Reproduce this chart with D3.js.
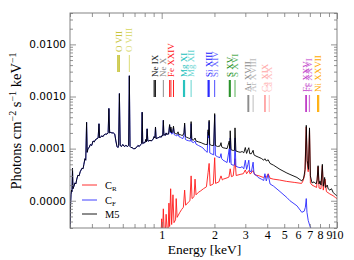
<!DOCTYPE html>
<html><head><meta charset="utf-8">
<script src="https://cdn.jsdelivr.net/npm/d3@7"></script>
<style>
html,body{margin:0;padding:0;background:#fff;}
svg{display:block;}
</style></head><body>
<svg id="c" width="354" height="260"></svg>
<script>
// ---------- data ----------
const xTickValues = [0.3,0.4,0.5,0.6,0.7,0.8,0.9,1,2,3,4,5,6,7,8,9,10];
const xTickLabels = ["","","","","","","","1","2","3","4","5","6","7","8","9","10"];
const yTickValues = [1e-5,1e-4,1e-3,1e-2];
const yTickLabels = ["0.0000","0.0001","0.0010","0.0100"];
const seriesNames = ["C_R","C_F","M5"];

// soft part (E<1.1 keV) where C_F and M5 coincide  [keV, photons cm^-2 s^-1 keV^-1]
const softSpectrum = [
[0.300,2.5e-6],[0.302,8.0e-6],[0.304,1.3e-5],[0.306,1.6e-5],[0.308,1.5e-5],[0.310,4.2e-5],[0.312,1.7e-5],
[0.316,1.9e-5],[0.320,2.2e-5],[0.324,2.1e-5],[0.328,2.6e-5],[0.333,3.1e-5],[0.338,3.0e-5],[0.343,3.6e-5],
[0.351,4.2e-5],[0.356,4.1e-5],[0.360,5.0e-5],[0.365,6.4e-5],[0.369,6.0e-5],[0.373,3.2e-4],[0.376,8.5e-5],
[0.380,1.0e-4],[0.386,1.05e-4],[0.392,1.2e-4],[0.399,1.15e-4],[0.406,1.4e-4],[0.413,1.35e-4],[0.420,1.5e-4],
[0.428,1.55e-4],[0.434,1.6e-4],[0.439,3.0e-4],[0.443,1.6e-4],[0.450,1.7e-4],[0.456,1.75e-4],[0.463,1.7e-4],
[0.470,1.85e-4],[0.478,1.9e-4],[0.488,1.9e-4],[0.495,2.0e-4],[0.500,5.9e-4],[0.505,2.0e-4],[0.512,2.05e-4],
[0.520,2.0e-4],[0.530,2.0e-4],[0.540,1.9e-4],[0.548,1.4e-4],[0.556,1.1e-4],[0.563,1.05e-4],[0.568,1.15e-4],
[0.574,1.14e-3],[0.580,1.15e-4],[0.590,1.1e-4],[0.600,1.2e-4],[0.612,1.1e-4],[0.625,1.15e-4],[0.640,1.1e-4],
[0.648,1.15e-4],[0.654,2.5e-3],[0.660,1.1e-4],[0.668,1.05e-4],[0.677,1.05e-4],[0.690,1.0e-4],[0.704,1.0e-4],
[0.718,1.05e-4],[0.732,1.15e-4],[0.745,1.1e-4],[0.760,1.2e-4],[0.768,1.25e-4],[0.774,5.0e-4],[0.780,1.25e-4],
[0.792,1.3e-4],[0.803,1.3e-4],[0.812,1.5e-4],[0.818,1.35e-4],[0.826,2.4e-4],[0.834,1.4e-4],[0.845,1.4e-4],
[0.858,1.45e-4],[0.870,1.4e-4],[0.881,1.45e-4],[0.893,1.5e-4],[0.905,1.7e-4],[0.915,1.6e-4],[0.922,2.6e-4],
[0.930,1.55e-4],[0.942,1.6e-4],[0.952,1.6e-4],[0.965,1.65e-4],[0.980,1.7e-4],[0.993,1.65e-4],[1.005,1.8e-4],
[1.014,1.75e-4],[1.022,3.5e-4],[1.030,1.8e-4],[1.040,1.85e-4],[1.050,1.8e-4],[1.060,2.0e-4],[1.072,1.85e-4],
[1.085,1.95e-4],[1.095,1.9e-4]
];

// C_F above 1.1 keV
const cfHard = [
[1.100,2.15e-4],[1.110,2.8e-4],[1.120,2.0e-4],[1.129,2.4e-4],[1.140,1.9e-4],[1.155,1.95e-4],[1.168,2.5e-4],
[1.180,1.85e-4],[1.200,1.8e-4],[1.220,1.75e-4],[1.240,1.9e-4],[1.255,1.7e-4],[1.280,1.65e-4],[1.300,1.6e-4],
[1.320,1.55e-4],[1.340,1.8e-4],[1.352,2.9e-4],[1.365,1.5e-4],[1.390,1.45e-4],[1.420,1.42e-4],[1.450,1.4e-4],
[1.462,1.4e-4],[1.472,3.0e-4],[1.485,1.35e-4],[1.520,1.3e-4],[1.550,1.4e-4],[1.570,1.22e-4],[1.620,1.15e-4],
[1.680,1.08e-4],[1.720,1.03e-4],[1.780,9.0e-5],[1.820,8.5e-5],[1.839,2.1e-4],[1.852,1.6e-4],[1.865,3.3e-4],
[1.880,8.3e-5],[1.930,7.9e-5],[1.980,7.6e-5],[2.006,4.4e-4],[2.025,7.4e-5],[2.080,7.0e-5],[2.150,6.7e-5],
[2.180,8.0e-5],[2.200,6.4e-5],[2.240,6.0e-5],[2.300,5.7e-5],[2.360,5.4e-5],[2.430,1.0e-4],[2.445,5.4e-5],
[2.460,1.6e-4],[2.490,5.0e-5],[2.560,4.8e-5],[2.600,4.9e-5],[2.620,1.6e-4],[2.650,4.6e-5],[2.730,4.4e-5],
[2.800,4.3e-5],[2.880,4.5e-5],[2.940,4.1e-5],[3.000,6.0e-5],[3.050,4.0e-5],[3.104,5.0e-5],[3.140,6.0e-5],
[3.180,3.7e-5],[3.250,3.6e-5],[3.323,5.5e-5],[3.360,3.3e-5],[3.450,3.1e-5],[3.550,2.8e-5],[3.700,2.6e-5],
[3.820,2.45e-5],[3.880,3.3e-5],[3.950,2.4e-5],[4.050,3.2e-5],[4.150,2.1e-5],[4.350,1.9e-5],[4.730,1.5e-5],
[5.180,1.15e-5],[5.390,1.0e-5],[5.910,8.0e-6],[6.300,6.0e-6],[6.500,6.3e-6],[6.600,7.5e-6],[6.680,1.1e-5],
[6.740,6.0e-6],[6.850,4.2e-6],[7.000,3.3e-6],[7.200,2.7e-6],[7.500,2.0e-6]
];

// M5 above 1.1 keV
const m5Hard = [
[1.100,2.2e-4],[1.110,2.9e-4],[1.120,2.1e-4],[1.129,2.6e-4],[1.140,2.0e-4],[1.155,2.1e-4],[1.168,2.7e-4],
[1.180,2.0e-4],[1.200,1.95e-4],[1.220,1.9e-4],[1.240,2.1e-4],[1.255,1.85e-4],[1.280,1.85e-4],[1.300,1.8e-4],
[1.320,1.8e-4],[1.340,2.0e-4],[1.352,3.1e-4],[1.365,1.7e-4],[1.390,1.65e-4],[1.420,1.6e-4],[1.450,1.56e-4],
[1.462,1.6e-4],[1.472,3.3e-4],[1.485,1.5e-4],[1.520,1.45e-4],[1.550,1.6e-4],[1.570,1.4e-4],[1.620,1.35e-4],
[1.680,1.3e-4],[1.720,1.25e-4],[1.780,1.2e-4],[1.820,1.2e-4],[1.839,2.3e-4],[1.852,1.8e-4],[1.865,3.5e-4],
[1.880,1.2e-4],[1.930,1.15e-4],[1.980,1.15e-4],[2.006,4.7e-4],[2.025,1.15e-4],[2.080,1.1e-4],[2.150,1.12e-4],
[2.180,1.3e-4],[2.200,1.08e-4],[2.240,1.04e-4],[2.300,1.02e-4],[2.360,1.0e-4],[2.430,1.4e-4],[2.445,1.0e-4],
[2.460,2.2e-4],[2.490,9.5e-5],[2.560,9.2e-5],[2.600,9.3e-5],[2.620,2.5e-4],[2.650,9.0e-5],[2.730,8.7e-5],
[2.800,8.5e-5],[2.880,8.8e-5],[2.940,8.3e-5],[3.000,1.05e-4],[3.050,8.1e-5],[3.104,9.5e-5],[3.140,1.04e-4],
[3.180,8.0e-5],[3.250,8.0e-5],[3.323,9.3e-5],[3.360,7.6e-5],[3.450,7.2e-5],[3.550,6.9e-5],[3.700,6.5e-5],
[3.820,6.0e-5],[3.880,6.4e-5],[3.950,5.8e-5],[4.050,6.1e-5],[4.150,5.2e-5],[4.350,4.8e-5],[4.730,4.0e-5],
[5.180,3.4e-5],[5.390,3.2e-5],[5.910,2.8e-5],[6.300,2.4e-5],[6.450,2.7e-5],[6.580,4.0e-5],[6.680,2.8e-4],
[6.760,6.0e-5],[6.880,4.0e-5],[6.970,2.5e-4],[7.050,3.0e-5],[7.200,2.2e-5],[7.400,2.3e-5],[7.600,2.1e-5],
[7.700,2.5e-5],[7.800,4.7e-5],[7.900,2.1e-5],[8.000,2.4e-5],[8.100,2.0e-5],[8.250,5.0e-5],[8.350,1.9e-5],
[8.500,2.8e-5],[8.600,1.8e-5],[8.800,2.0e-5],[8.900,1.7e-5],[9.100,1.6e-5],[9.300,1.7e-5],[9.500,1.45e-5],
[9.800,1.3e-5],[10.00,1.25e-5]
];

// C_R
const crSpectrum = [
[0.960,1.5e-6],[0.990,1.9e-6],[1.000,4.5e-6],[1.010,2.0e-6],[1.022,7.0e-6],[1.035,2.3e-6],[1.050,2.5e-6],
[1.060,5.5e-6],[1.075,2.8e-6],[1.090,3.0e-6],[1.100,9.0e-6],[1.110,3.2e-6],[1.125,1.7e-5],[1.140,3.5e-6],
[1.160,1.3e-5],[1.175,3.8e-6],[1.200,4.3e-6],[1.210,1.1e-5],[1.225,4.8e-6],[1.270,6.0e-6],[1.300,6.8e-6],
[1.330,7.5e-6],[1.352,1.6e-5],[1.370,8.2e-6],[1.420,9.4e-6],[1.450,1.0e-5],[1.472,3.0e-5],[1.490,1.1e-5],
[1.530,1.2e-5],[1.550,2.6e-5],[1.570,1.3e-5],[1.620,1.45e-5],[1.670,1.55e-5],[1.730,1.7e-5],[1.800,1.85e-5],
[1.840,3.5e-5],[1.865,5.2e-5],[1.890,1.95e-5],[1.970,2.1e-5],[2.006,6.7e-5],[2.030,2.15e-5],[2.120,2.3e-5],
[2.180,3.0e-5],[2.220,2.5e-5],[2.250,2.6e-5],[2.360,2.75e-5],[2.420,2.85e-5],[2.460,4.1e-5],[2.500,2.9e-5],
[2.560,3.0e-5],[2.620,6.4e-5],[2.660,3.05e-5],[2.800,3.2e-5],[2.920,3.3e-5],[3.000,3.9e-5],[3.050,3.3e-5],
[3.140,3.8e-5],[3.200,3.25e-5],[3.323,3.8e-5],[3.400,3.15e-5],[3.600,3.0e-5],[3.800,2.8e-5],[3.880,3.0e-5],
[3.950,2.8e-5],[4.050,3.3e-5],[4.150,2.7e-5],[4.330,2.6e-5],[4.700,2.5e-5],[5.160,2.35e-5],[5.700,2.25e-5],
[6.280,2.15e-5],[6.400,2.4e-5],[6.550,3.2e-5],[6.680,2.6e-4],[6.750,5.5e-5],[6.850,3.6e-5],[6.970,2.3e-4],
[7.050,2.2e-5],[7.200,2.0e-5],[7.650,1.8e-5],[7.800,4.5e-5],[7.900,1.75e-5],[8.100,1.7e-5],[8.250,4.7e-5],
[8.350,1.6e-5],[8.550,2.6e-5],[8.700,1.5e-5],[9.100,1.35e-5],[9.500,1.25e-5],[9.800,1.15e-5],[10.00,1.1e-5]
];

// line identifications (keV)
const ions = ["O VII","O VIII","Ne IX","Ne X","Fe XXIV","Mg XI","Mg XII","Si XIII","Si XIV","S XV","S XVI",
              "Ar XVII","Ar XVIII","Ca XIX","Ca XX","Fe XXV","Fe XXVI","Ni XXVII"];
const ionEnergies = [[0.561,0.569,0.574],[0.654],[0.905,0.915,0.922],[1.022],[1.110,1.129,1.168],
  [1.331,1.343,1.352],[1.472],[1.839,1.854,1.865],[2.002,2.006],[2.430,2.448,2.461],[2.620],
  [3.104,3.124,3.140],[3.323],[3.861,3.883,3.902],[4.107],[6.637,6.668,6.700],[6.952,6.973],[7.757,7.793,7.87]];

// ---------- style / layout ----------
const ionColors = ["#c8c43c","#dcdc78","#222222","#8c8c8c","#ff2020","#20c0bc","#66d4d0","#2020ff","#6a6aff",
  "#208c20","#58b058","#8c8c8c","#bcbcbc","#ffa8a8","#ffbcbc","#c040c8","#d070d8","#ffaa00"];
const ionTier = [0,0,1,1,1,1,1,1,1,1,1,2,2,2,2,2,2,2];
const tierBars = [[55,72],[80,97],[95,112]];
const seriesColors = ["#ff1a1a","#2a2aff","#000000"];

const L=70,R=337,T=13,B=228;
const svg=d3.select('#c');
const x=d3.scaleLog().domain([0.3,10]).range([L,R]);
const y=d3.scaleLog().domain([3e-6,0.04]).range([B,T]);

svg.append('defs').append('clipPath').attr('id','clip')
  .append('rect').attr('x',L).attr('y',T).attr('width',R-L).attr('height',B-T);

// spectra
const cF = softSpectrum.concat(cfHard);
const m5 = softSpectrum.concat(m5Hard);
const seriesData=[crSpectrum,cF,m5];
const line=d3.line().x(d=>x(d[0])).y(d=>y(Math.max(d[1],1e-7)));
const gs=svg.append('g').attr('clip-path','url(#clip)');
seriesData.forEach((s,i)=>{
  gs.append('path').attr('d',line(s)).attr('fill','none')
    .attr('stroke',seriesColors[i]).attr('stroke-width',0.9).attr('stroke-linejoin','round');
});

// axes
const frameColor="#777";
const serif="Liberation Serif, Times New Roman, serif";
function styleAxis(g){
  g.attr('font-family',null).attr('font-size',null);
  g.select('.domain').remove();
  g.selectAll('.tick line').attr('stroke',frameColor).attr('stroke-width',0.8);
}
const gx=svg.append('g').attr('transform',`translate(0,${B})`)
  .call(d3.axisBottom(x).tickValues(xTickValues).tickFormat((d,i)=>xTickLabels[i]).tickSizeInner(-4).tickSizeOuter(0).tickPadding(2.5));
styleAxis(gx);
gx.selectAll('.tick line').attr('y2',d=>(d===1||d===10)?-6:-4);
gx.selectAll('.tick text').style('font-family',serif).style('font-size','12px').attr('fill','#000');

const gxt=svg.append('g').attr('transform',`translate(0,${T})`)
  .call(d3.axisTop(x).tickValues(xTickValues).tickFormat('').tickSizeInner(-4).tickSizeOuter(0));
styleAxis(gxt);
gxt.selectAll('.tick line').attr('y2',d=>(d===1||d===10)?6:4);

const minorY=[];
for(let p=-6;p<=-2;p++) for(let m=2;m<=9;m++){const v=m*Math.pow(10,p); if(v>=3e-6&&v<=0.04) minorY.push(v);}
const gy=svg.append('g').attr('transform',`translate(${L},0)`)
  .call(d3.axisLeft(y).tickValues(yTickValues).tickFormat((d,i)=>yTickLabels[i]).tickSizeInner(-6).tickSizeOuter(0).tickPadding(4));
styleAxis(gy);
gy.selectAll('.tick text').style('font-family','DejaVu Sans, sans-serif').style('font-size','10.5px').attr('fill','#000');
const gym=svg.append('g').attr('transform',`translate(${L},0)`)
  .call(d3.axisLeft(y).tickValues(minorY).tickFormat('').tickSizeInner(-3).tickSizeOuter(0));
styleAxis(gym);
const gyr=svg.append('g').attr('transform',`translate(${R},0)`)
  .call(d3.axisRight(y).tickValues(yTickValues).tickFormat('').tickSizeInner(-6).tickSizeOuter(0));
styleAxis(gyr);
const gyrm=svg.append('g').attr('transform',`translate(${R},0)`)
  .call(d3.axisRight(y).tickValues(minorY).tickFormat('').tickSizeInner(-3).tickSizeOuter(0));
styleAxis(gyrm);

svg.append('rect').attr('x',L).attr('y',T).attr('width',R-L).attr('height',B-T)
  .attr('fill','none').attr('stroke',frameColor).attr('stroke-width',0.9);

// ion labels
const ga=svg.append('g');
ions.forEach((name,i)=>{
  const [y0,y1]=tierBars[ionTier[i]];
  const es=ionEnergies[i];
  es.forEach(e=>ga.append('line').attr('x1',x(e)).attr('x2',x(e)).attr('y1',y0).attr('y2',y1)
     .attr('stroke',ionColors[i]).attr('stroke-width',1));
  const cx=d3.mean(es,e=>x(e));
  ga.append('text').attr('transform',`translate(${cx},${y0-3}) rotate(-90)`)
    .attr('dominant-baseline','central').style('font-family',serif).style('font-size','9px')
    .attr('fill',ionColors[i]).text(name);
});

// legend
const legendRows=[185,200,214];
const lg=svg.append('g');
seriesNames.forEach((n,i)=>{
  const yy=legendRows[i];
  lg.append('line').attr('x1',82).attr('x2',97).attr('y1',yy).attr('y2',yy)
    .attr('stroke',seriesColors[i]).attr('stroke-width',0.9);
  const parts=n.split('_');
  const t=lg.append('text').attr('x',105).attr('y',yy+3.5).style('font-family',serif).style('font-size','10.5px').attr('fill','#000');
  t.append('tspan').text(parts[0]);
  if(parts[1]) t.append('tspan').style('font-size','7px').attr('dy',2).text(parts[1]);
});

// axis titles
svg.append('text').attr('x',(L+R)/2+1).attr('y',254).attr('text-anchor','middle')
  .style('font-family',serif).style('font-size','13.5px').text('Energy [keV]');
const yl=svg.append('text').attr('transform','translate(21,121) rotate(-90)').attr('text-anchor','middle')
  .style('font-family',serif).style('font-size','14.5px');
yl.append('tspan').text('Photons cm');
yl.append('tspan').style('font-size','10px').attr('dy',-5).text('\u22122');
yl.append('tspan').attr('dy',5).text(' s');
yl.append('tspan').style('font-size','10px').attr('dy',-5).text('\u22121');
yl.append('tspan').attr('dy',5).text(' keV');
yl.append('tspan').style('font-size','10px').attr('dy',-5).text('\u22121');
</script>
</body></html>
